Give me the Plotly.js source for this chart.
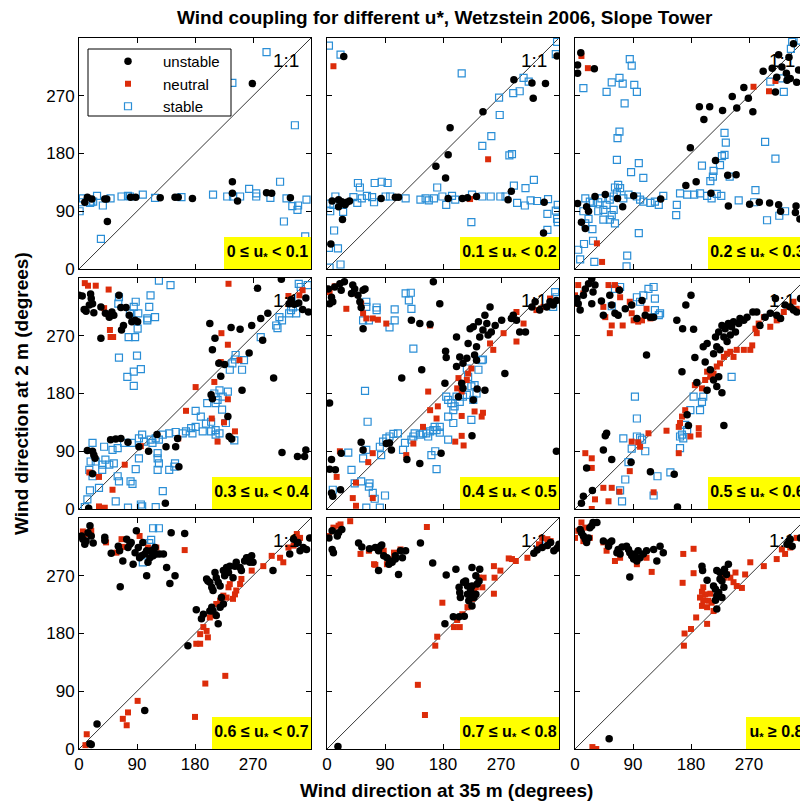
<!DOCTYPE html>
<html>
<head>
<meta charset="utf-8">
<script src="https://cdn.plot.ly/plotly-3.0.1.min.js"></script>
<style>
html,body{margin:0;padding:0;overflow:hidden;background:#fff;}
#chart{width:810px;height:803px;}
</style>
</head>
<body>
<div id="chart"></div>
<script>
// ---------------- DATA (degrees: [dir at 35 m, dir at 2 m]) ----------------
const panelLabels = [
  '0 \u2264 u<sub>*</sub> < 0.1', '0.1 \u2264 u<sub>*</sub> < 0.2', '0.2 \u2264 u<sub>*</sub> < 0.3',
  '0.3 \u2264 u<sub>*</sub> < 0.4', '0.4 \u2264 u<sub>*</sub> < 0.5', '0.5 \u2264 u<sub>*</sub> < 0.6',
  '0.6 \u2264 u<sub>*</sub> < 0.7', '0.7 \u2264 u<sub>*</sub> < 0.8', 'u<sub>*</sub> \u2265 0.8'
];
const axisTicks = [0, 90, 180, 270];
const axisRange = [0, 360];
const oneToOne = [0, 360];

const p1_unstable = [[9,104],[13,112],[20,109],[40,109],[43,109],[44,74],[80,112],[88,112],[126,111],[149,112],[154,112],[176,110],[238,136],[238,118],[246,106],[269,289],[291,119],[299,118],[328,111]];
const p1_neutral = [];
const p1_stable = [[1,90],[4,104],[6,110],[17,103],[19,104],[22,105],[28,114],[37,99],[34,47],[49,110],[66,113],[76,114],[79,113],[99,116],[118,111],[159,112],[208,116],[230,113],[238,290],[239,113],[250,113],[264,125],[275,118],[275,113],[297,111],[312,136],[318,74],[291,338],[322,110],[335,224],[331,98],[339,92],[340,99],[353,108],[351,51]];

const p2_unstable = [[26,331],[8,106],[18,108],[18,97],[23,105],[28,100],[31,104],[35,106],[24,77],[6,39],[84,110],[106,112],[111,112],[169,160],[184,142],[188,178],[191,220],[242,245],[188,110],[210,110],[218,111],[232,113],[281,108],[286,121],[290,295],[318,290],[320,266],[339,289],[357,332],[337,104],[336,56]];
const p2_neutral = [[10,316],[250,171],[222,109]];
const p2_stable = [[3,348],[21,334],[209,305],[305,298],[313,292],[289,274],[299,277],[267,267],[268,240],[255,207],[241,192],[283,177],[287,179],[355,335],[357,354],[321,139],[308,126],[290,130],[171,127],[74,134],[85,136],[94,134],[48,134],[51,127],[13,113],[5,102],[10,100],[41,112],[47,103],[54,110],[62,114],[70,112],[73,104],[91,113],[98,113],[122,110],[145,108],[153,110],[158,107],[166,110],[179,113],[185,100],[194,114],[199,108],[225,116],[241,113],[254,113],[269,113],[277,113],[295,103],[307,99],[316,107],[326,106],[343,109],[358,100],[25,89],[5,90],[11,60],[3,33],[17,32],[21,7],[4,2],[224,73],[342,86],[357,78],[358,73],[355,91],[342,61]];

const p3_unstable = [[9,337],[4,318],[4,305],[30,312],[4,102],[18,97],[21,90],[10,73],[16,63],[31,113],[47,116],[66,110],[74,97],[91,114],[133,109],[172,130],[188,136],[211,118],[237,146],[250,147],[238,98],[271,101],[286,104],[302,103],[316,100],[319,90],[343,98],[342,88],[349,78],[179,189],[200,233],[193,253],[209,253],[229,247],[244,269],[251,251],[262,283],[269,266],[276,245],[292,308],[306,313],[311,276],[313,299],[316,334],[321,315],[328,305],[332,330],[344,291],[339,351],[218,169],[334,297],[347,310],[329,294]];
const p3_neutral = [[10,332],[20,313],[277,284],[301,277],[311,293],[42,11],[34,40]];
const p3_stable = [[13,282],[49,276],[57,291],[69,298],[74,289],[85,327],[88,317],[92,287],[96,276],[77,258],[69,214],[66,204],[65,170],[99,165],[87,151],[106,142],[67,131],[62,127],[16,110],[23,105],[28,103],[36,104],[41,110],[49,100],[54,108],[60,113],[65,118],[70,126],[75,110],[83,116],[96,113],[101,108],[106,105],[117,103],[124,105],[130,100],[137,114],[44,92],[36,90],[57,84],[60,92],[13,90],[44,77],[54,77],[62,71],[158,100],[157,84],[163,118],[174,116],[185,116],[194,118],[205,114],[212,110],[220,117],[227,114],[197,161],[215,153],[214,144],[210,137],[225,162],[228,176],[232,178],[232,212],[234,197],[240,144],[295,198],[311,172],[280,123],[278,104],[254,107],[298,76],[317,83],[326,90],[5,30],[8,15],[14,39],[28,44],[30,11],[81,21],[80,4],[99,56],[21,78],[27,62],[16,71],[324,276],[303,292],[320,297],[335,343],[337,354],[350,356]];

const p4_unstable = [[0,333],[5,332],[8,311],[11,308],[16,318],[18,335],[21,320],[23,306],[19,328],[34,315],[41,305],[47,299],[51,307],[54,302],[62,333],[65,314],[66,279],[69,286],[73,314],[78,302],[82,292],[87,294],[91,292],[34,266],[13,91],[21,90],[23,84],[25,79],[21,55],[49,108],[57,109],[65,110],[76,104],[93,97],[108,90],[121,116],[135,97],[150,97],[153,110],[155,66],[134,9],[15,1],[203,289],[211,266],[207,248],[217,227],[220,207],[226,225],[236,283],[250,280],[268,286],[282,297],[293,305],[285,263],[264,243],[253,185],[302,204],[207,172],[205,178],[231,144],[233,113],[237,109],[315,88],[339,82],[350,82],[352,92],[277,344],[314,358],[326,320],[334,319],[341,321],[347,311],[356,307],[352,329],[329,326]];
const p4_neutral = [[9,352],[14,348],[26,348],[46,342],[39,313],[48,279],[49,268],[53,268],[232,351],[221,274],[231,256],[220,229],[210,198],[181,190],[166,153],[206,141],[231,171],[225,135],[242,121],[215,105],[154,110],[96,98],[71,69],[16,57],[31,50],[52,30],[31,4],[40,2],[249,232],[325,332],[342,333],[347,341]];
const p4_stable = [[124,356],[142,349],[111,333],[109,315],[106,297],[88,323],[85,315],[92,305],[79,305],[77,268],[87,268],[91,281],[62,330],[61,320],[62,236],[90,239],[96,218],[75,206],[85,214],[85,192],[118,299],[106,294],[181,153],[189,144],[197,133],[205,136],[212,123],[218,118],[199,165],[210,180],[215,170],[222,155],[231,183],[218,185],[212,165],[223,175],[234,217],[242,233],[238,227],[256,232],[253,217],[243,240],[228,134],[161,118],[166,121],[174,126],[176,118],[181,128],[192,121],[205,121],[212,116],[241,107],[150,120],[140,118],[130,116],[119,110],[124,108],[114,103],[101,105],[98,116],[93,110],[82,103],[70,103],[60,95],[52,92],[39,97],[41,77],[47,69],[54,71],[36,69],[26,74],[21,103],[18,74],[16,61],[21,51],[31,33],[36,61],[60,51],[62,43],[80,43],[83,39],[88,62],[93,79],[111,108],[122,87],[122,79],[124,71],[122,61],[140,61],[148,66],[149,71],[130,28],[119,3],[96,7],[98,4],[76,2],[57,12],[17,29],[9,3],[13,15],[311,299],[308,282],[315,294],[326,305],[332,314],[341,351],[344,346],[355,349],[329,310],[337,305],[282,268],[306,286]];

const p5_unstable = [[2,343],[7,330],[9,323],[4,320],[12,346],[20,351],[22,341],[27,354],[40,349],[38,336],[43,343],[48,333],[51,323],[53,314],[56,341],[59,343],[56,281],[131,294],[144,289],[160,288],[175,320],[165,354],[116,204],[147,217],[183,196],[184,246],[185,236],[201,268],[201,222],[206,237],[211,227],[217,235],[219,258],[222,281],[227,284],[229,240],[232,253],[232,232],[235,292],[237,268],[242,279],[245,302],[248,289],[250,271],[253,315],[255,276],[261,286],[271,294],[276,211],[286,297],[289,302],[294,294],[299,276],[308,276],[318,315],[323,323],[330,310],[341,315],[346,323],[351,318],[356,325],[209,196],[211,188],[227,170],[204,175],[225,114],[233,187],[245,185],[177,87],[124,77],[144,71],[97,103],[92,102],[100,92],[53,104],[56,92],[22,87],[7,77],[4,62],[13,61],[21,30],[9,20],[7,25],[356,90],[4,165]];
const p5_neutral = [[0,343],[4,338],[12,347],[30,312],[40,336],[53,320],[56,305],[61,297],[71,297],[79,295],[92,289],[160,286],[294,307],[305,289],[325,310],[336,315],[346,328],[294,261],[274,274],[253,258],[258,248],[224,219],[219,211],[217,201],[204,204],[202,188],[209,183],[160,154],[172,160],[170,141],[209,145],[229,152],[242,150],[240,144],[209,114],[212,99],[199,105],[157,183],[149,128],[134,102],[123,84],[71,87],[64,73],[20,90],[15,50],[45,41],[40,17],[45,5],[71,17]];
const p5_stable = [[61,315],[77,314],[77,310],[61,323],[56,294],[65,294],[97,283],[105,294],[105,311],[122,336],[130,337],[127,325],[131,312],[134,250],[59,184],[63,136],[185,175],[188,170],[193,165],[196,154],[198,160],[201,175],[206,167],[211,175],[217,178],[224,191],[229,193],[227,170],[232,180],[242,233],[240,232],[235,217],[217,219],[219,206],[224,139],[196,134],[188,144],[175,128],[167,128],[165,123],[160,121],[154,118],[157,113],[149,118],[144,116],[136,118],[134,113],[131,108],[121,103],[118,92],[110,118],[103,117],[97,113],[92,110],[87,105],[82,97],[84,84],[61,92],[56,79],[38,61],[33,88],[53,43],[66,40],[65,35],[71,25],[74,16],[90,21],[82,2],[61,2],[168,90],[162,84],[170,62],[188,108],[175,119],[170,123],[9,30],[43,40],[354,338],[356,330],[351,315]];

const p6_unstable = [[3,328],[5,320],[8,310],[13,333],[16,343],[21,351],[26,359],[28,338],[31,349],[26,320],[41,324],[44,302],[54,333],[57,318],[62,305],[69,341],[67,302],[78,312],[88,318],[96,297],[104,325],[109,302],[117,299],[122,299],[158,294],[167,281],[172,318],[180,333],[184,280],[111,240],[166,214],[186,236],[199,253],[202,229],[205,258],[210,217],[215,242],[218,268],[220,253],[223,276],[225,248],[228,286],[231,268],[233,281],[236,261],[238,289],[241,271],[243,284],[246,292],[249,276],[254,289],[256,297],[262,294],[267,299],[276,307],[282,307],[287,286],[295,299],[303,305],[313,302],[319,297],[326,318],[334,315],[339,310],[344,307],[223,206],[215,201],[220,191],[205,185],[228,181],[189,197],[174,147],[176,130],[231,130],[49,118],[47,114],[44,92],[57,77],[87,73],[117,58],[154,54],[18,64],[27,29],[13,20],[10,9],[159,3],[311,328],[350,328]];
const p6_neutral = [[0,333],[3,320],[5,349],[13,336],[52,349],[62,349],[67,343],[70,330],[44,315],[47,299],[54,274],[57,286],[74,286],[85,323],[88,305],[91,294],[98,292],[104,294],[111,312],[117,297],[186,193],[197,188],[202,201],[205,214],[210,206],[215,211],[220,222],[225,227],[231,237],[236,242],[241,245],[246,237],[251,248],[262,248],[272,248],[275,255],[280,281],[282,274],[285,289],[293,299],[303,284],[313,294],[324,307],[332,315],[339,323],[344,312],[171,154],[166,144],[163,134],[161,128],[142,122],[192,126],[192,116],[179,113],[161,87],[114,118],[98,104],[101,97],[88,105],[85,59],[16,87],[26,79],[26,64],[31,15],[26,0],[44,33],[57,33],[69,27],[122,26],[52,12]];
const p6_stable = [[57,316],[62,343],[70,346],[96,330],[101,323],[106,333],[114,343],[122,346],[124,328],[124,310],[130,302],[132,305],[93,175],[96,141],[75,110],[88,94],[96,113],[101,111],[104,108],[109,90],[83,73],[78,46],[70,29],[73,12],[128,51],[148,57],[122,21],[166,116],[163,113],[168,110],[174,123],[171,131],[163,95],[179,154],[184,175],[194,154],[197,167],[199,175],[243,206]];

const p7_unstable = [[4,332],[6,327],[9,319],[11,324],[14,337],[17,348],[19,332],[22,321],[40,330],[40,325],[50,305],[61,316],[63,309],[64,253],[68,293],[74,327],[76,314],[79,319],[81,322],[84,288],[87,306],[89,340],[92,314],[94,298],[97,301],[99,322],[102,304],[105,309],[105,270],[107,291],[110,298],[112,309],[115,301],[118,314],[120,304],[125,304],[131,304],[136,283],[141,258],[143,337],[149,270],[164,336],[169,161],[182,217],[190,203],[198,265],[200,262],[203,260],[206,252],[208,247],[211,275],[213,267],[216,260],[219,254],[221,236],[224,278],[226,270],[229,283],[232,275],[234,285],[239,267],[242,285],[244,291],[250,283],[252,278],[257,293],[260,298],[263,298],[265,291],[268,301],[270,291],[193,210],[203,215],[206,221],[208,215],[213,208],[216,195],[219,221],[224,226],[301,278],[327,304],[333,327],[340,322],[343,309],[348,314],[353,311],[358,329],[28,39],[102,60],[19,7],[17,8]];
const p7_neutral = [[6,339],[11,335],[19,340],[42,322],[58,306],[66,327],[94,332],[107,314],[120,314],[164,310],[188,164],[182,164],[188,179],[193,190],[198,184],[200,174],[203,205],[208,208],[213,226],[219,231],[224,239],[229,236],[232,252],[234,257],[239,234],[242,241],[244,247],[250,257],[252,265],[268,278],[286,285],[299,301],[312,298],[317,291],[325,314],[333,317],[343,329],[338,335],[227,114],[196,102],[180,50],[91,75],[76,57],[74,37],[68,47],[12,23],[10,6],[68,315]];
const p7_stable = [[115,344],[124,344],[112,326],[109,321],[99,291]];

const p8_unstable = [[3,329],[8,340],[8,311],[10,306],[16,332],[18,337],[23,342],[49,321],[54,315],[66,312],[75,314],[80,309],[83,316],[85,318],[80,278],[88,301],[93,298],[96,288],[98,293],[101,291],[106,301],[106,296],[111,272],[114,309],[117,298],[122,309],[145,321],[164,290],[185,271],[200,280],[183,195],[196,206],[205,206],[213,207],[205,252],[206,244],[207,236],[212,260],[215,262],[218,254],[218,241],[220,231],[223,247],[223,239],[225,283],[225,254],[225,223],[228,236],[231,241],[231,270],[233,257],[237,280],[236,262],[321,305],[326,310],[334,314],[342,317],[347,322],[352,309],[357,313],[360,319],[17,4]];
const p8_neutral = [[3,332],[10,345],[18,348],[21,350],[36,355],[52,304],[65,309],[73,288],[75,287],[88,309],[93,288],[96,296],[104,306],[114,311],[155,346],[179,228],[171,175],[168,161],[202,201],[197,190],[206,190],[210,210],[218,221],[225,234],[228,247],[231,252],[236,267],[241,252],[243,267],[259,285],[259,242],[260,267],[269,278],[282,297],[287,296],[293,293],[311,298],[329,319],[334,329],[342,327],[347,324],[141,100],[152,53]];
const p8_stable = [];

const p9_unstable = [[8,342],[10,337],[13,332],[16,327],[18,322],[21,329],[23,345],[26,348],[28,353],[34,353],[44,324],[52,316],[54,322],[57,324],[65,306],[67,311],[70,304],[73,315],[80,316],[83,311],[85,306],[88,301],[91,296],[93,304],[96,293],[98,309],[101,298],[106,304],[111,309],[122,311],[127,293],[132,316],[137,306],[85,268],[197,285],[198,278],[205,263],[215,254],[218,249],[220,278],[220,239],[223,244],[225,275],[225,265],[228,262],[228,236],[231,252],[232,280],[235,272],[238,288],[220,218],[218,232],[329,319],[332,324],[334,327],[337,316],[350,329],[53,16]];
const p9_neutral = [[0,329],[5,340],[10,353],[16,345],[13,324],[23,329],[44,322],[49,309],[62,293],[70,298],[96,288],[111,298],[119,276],[168,304],[184,312],[184,274],[167,259],[194,236],[197,223],[199,232],[205,221],[205,195],[188,205],[180,187],[170,180],[169,161],[210,242],[212,228],[215,215],[231,267],[236,272],[241,267],[246,260],[251,254],[259,251],[249,275],[264,272],[272,291],[293,285],[313,296],[321,311],[326,304],[334,314],[344,329],[27,3],[33,0],[199,252],[202,241],[207,231],[197,245]];
const p9_stable = [];

const unstableSets = [p1_unstable,p2_unstable,p3_unstable,p4_unstable,p5_unstable,p6_unstable,p7_unstable,p8_unstable,p9_unstable];
const neutralSets  = [p1_neutral,p2_neutral,p3_neutral,p4_neutral,p5_neutral,p6_neutral,p7_neutral,p8_neutral,p9_neutral];
const stableSets   = [p1_stable,p2_stable,p3_stable,p4_stable,p5_stable,p6_stable,p7_stable,p8_stable,p9_stable];

// ---------------- STYLE / LAYOUT ----------------
const W = 810, H = 803;
const FONT = 'Arial, "Liberation Sans", sans-serif';
const colLeft = [79, 327, 575], colW = 232;
const rowTop = [38, 278, 518], rowH = 231;
const labelWidths = [87, 99, 99, 99, 99, 99, 99, 99, 61];

const traces = [];
const layout = {
  width: W, height: H,
  margin: {l: 0, r: 0, t: 0, b: 0},
  paper_bgcolor: '#fff', plot_bgcolor: '#fff',
  font: {family: FONT, color: '#000', size: 16},
  showlegend: true,
  legend: {
    x: 93 / W, y: 1 - 45 / H, xanchor: 'left', yanchor: 'top',
    bgcolor: 'rgba(0,0,0,0)', borderwidth: 0,
    font: {family: FONT, size: 15, color: '#000'},
    itemwidth: 60, tracegroupgap: 0
  },
  annotations: [],
  shapes: [{
    type: 'rect', xref: 'paper', yref: 'paper', layer: 'above',
    x0: 88 / W, x1: 231 / W, y0: 1 - 116 / H, y1: 1 - 49 / H,
    fillcolor: '#fff', line: {color: '#000', width: 1}
  }]
};

const xy = (pts, i) => pts.map(p => p[i]);

for (let k = 0; k < 9; k++) {
  const r = Math.floor(k / 3), c = k % 3;
  const sfx = k === 0 ? '' : String(k + 1);
  const xa = 'x' + sfx, ya = 'y' + sfx;
  const leg = (k === 1);
  layout['xaxis' + sfx] = {
    domain: [colLeft[c] / W, (colLeft[c] + colW) / W],
    anchor: ya, range: axisRange, tickvals: axisTicks,
    showticklabels: r === 2, ticks: 'inside', ticklen: 5, tickcolor: '#000',
    showline: true, linecolor: '#000', linewidth: 1, mirror: 'ticks',
    showgrid: false, zeroline: false, fixedrange: true,
    tickfont: {family: FONT, size: 17, color: '#000'}
  };
  layout['yaxis' + sfx] = {
    domain: [1 - (rowTop[r] + rowH) / H, 1 - rowTop[r] / H],
    anchor: xa, range: axisRange, tickvals: axisTicks,
    showticklabels: c === 0, ticks: 'inside', ticklen: 5, tickcolor: '#000',
    showline: true, linecolor: '#000', linewidth: 1, mirror: 'ticks',
    showgrid: false, zeroline: false, fixedrange: true,
    tickfont: {family: FONT, size: 17, color: '#000'}
  };
  traces.push({
    type: 'scatter', mode: 'lines', x: oneToOne, y: oneToOne, xaxis: xa, yaxis: ya,
    line: {color: '#000', width: 0.8}, showlegend: false, hoverinfo: 'skip'
  });
  traces.push({
    type: 'scatter', mode: 'markers', name: 'stable', legendrank: 3,
    x: xy(stableSets[k], 0), y: xy(stableSets[k], 1), xaxis: xa, yaxis: ya,
    marker: {symbol: 'square-open', size: 7, color: '#2a8ed6', line: {width: 1.2, color: '#2a8ed6'}},
    showlegend: leg, cliponaxis: true
  });
  traces.push({
    type: 'scatter', mode: 'markers', name: 'neutral', legendrank: 2,
    x: xy(neutralSets[k], 0), y: xy(neutralSets[k], 1), xaxis: xa, yaxis: ya,
    marker: {symbol: 'square', size: 6, color: '#dc2c0a'},
    showlegend: leg, cliponaxis: true
  });
  traces.push({
    type: 'scatter', mode: 'markers', name: 'unstable', legendrank: 1,
    x: xy(unstableSets[k], 0), y: xy(unstableSets[k], 1), xaxis: xa, yaxis: ya,
    marker: {symbol: 'circle', size: 7.5, color: '#000'},
    showlegend: leg, cliponaxis: true
  });
  layout.annotations.push({
    xref: xa, yref: ya, x: 321, y: 325, text: '1:1', showarrow: false,
    font: {family: FONT, size: 19, color: '#000'}, xanchor: 'center', yanchor: 'middle'
  });
  layout.annotations.push({
    xref: xa, yref: ya, x: 360, y: 0, text: '<b>' + panelLabels[k] + '</b>', showarrow: false,
    xanchor: 'right', yanchor: 'bottom', width: labelWidths[k], height: 32,
    bgcolor: '#ffff00', borderpad: 0, borderwidth: 0, align: 'center', valign: 'middle',
    font: {family: FONT, size: 16, color: '#000'}
  });
}

layout.annotations.push({
  xref: 'paper', yref: 'paper', x: 445 / W, y: 1 - 18 / H, xanchor: 'center', yanchor: 'middle',
  text: '<b>Wind coupling for different u*, Wetzstein 2006, Slope Tower</b>', showarrow: false,
  font: {family: FONT, size: 19, color: '#000'}
});
layout.annotations.push({
  xref: 'paper', yref: 'paper', x: 446 / W, y: 1 - 790 / H, xanchor: 'center', yanchor: 'middle',
  text: '<b>Wind direction at 35 m (degrees)</b>', showarrow: false,
  font: {family: FONT, size: 19, color: '#000'}
});
layout.annotations.push({
  xref: 'paper', yref: 'paper', x: 22 / W, y: 1 - 394 / H, xanchor: 'center', yanchor: 'middle',
  text: '<b>Wind direction at 2 m (degrees)</b>', showarrow: false, textangle: -90,
  font: {family: FONT, size: 19, color: '#000'}
});

Plotly.newPlot('chart', traces, layout, {displayModeBar: false, staticPlot: true});
</script>
</body>
</html>
